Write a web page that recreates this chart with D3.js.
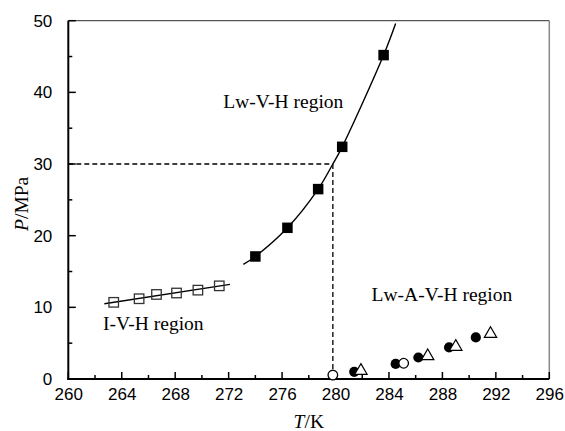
<!DOCTYPE html>
<html>
<head>
<meta charset="utf-8">
<script src="https://cdn.jsdelivr.net/npm/d3@7"></script>
<style>
  html, body { margin: 0; padding: 0; background: #fff; }
  svg { display: block; }
</style>
</head>
<body>
<svg id="chart" width="565" height="431"></svg>
<script>
// ---- data ----
const xTicks = [260, 264, 268, 272, 276, 280, 284, 288, 292, 296];
const yTicks = [0, 10, 20, 30, 40, 50];

// I-V-H (open squares)
const ivhT = [263.4, 265.3, 266.6, 268.1, 269.7, 271.3];
const ivhP = [10.7, 11.2, 11.8, 12.0, 12.4, 13.0];
const ivhFitT = [262.7, 272.1];
const ivhFitP = [10.5, 13.2];

// Lw-V-H (filled squares)
const lwvhT = [274.0, 276.4, 278.7, 280.5, 283.6];
const lwvhP = [17.1, 21.1, 26.5, 32.4, 45.2];
const lwvhFitT = [273.1, 274.0, 276.4, 278.7, 279.8, 280.5, 283.6, 284.5];
const lwvhFitP = [16.0, 17.1, 21.1, 26.5, 30.0, 32.4, 45.2, 49.6];

// Lw-A-V-H region points
const filledCircT = [281.4, 284.5, 286.2, 288.5, 290.5];
const filledCircP = [1.0, 2.1, 3.0, 4.4, 5.8];
const openCircT = [279.8, 285.1];
const openCircP = [0.55, 2.2];
const triT = [281.9, 286.9, 289.0, 291.6];
const triP = [1.15, 3.2, 4.5, 6.3];

// Guide (dashed) lines
const guideT = 279.8;
const guideP = 30;

// Region labels
const labels = [
  { text: "Lw-V-H region", t: 271.6, p: 37.8 },
  { text: "I-V-H region", t: 262.6, p: 6.8 },
  { text: "Lw-A-V-H region", t: 282.7, p: 10.9 }
];

// ---- layout ----
const svg = d3.select("#chart");
const L = 68.3, R = 549.3, T = 20.7, B = 379;
const x = d3.scaleLinear().domain([260, 296]).range([L, R]);
const y = d3.scaleLinear().domain([0, 50]).range([B, T]);

const serif = "'Liberation Serif', 'Times New Roman', serif";
const sans = "'Liberation Sans', Arial, sans-serif";

// top & right frame
svg.append("line").attr("x1", L).attr("x2", R).attr("y1", T).attr("y2", T)
  .attr("stroke", "#555").attr("stroke-width", 1.2);
svg.append("line").attr("x1", R).attr("x2", R).attr("y1", T).attr("y2", B)
  .attr("stroke", "#888").attr("stroke-width", 1.5);

// dashed guide lines
svg.append("line").attr("x1", x(260)).attr("x2", x(guideT))
  .attr("y1", y(guideP)).attr("y2", y(guideP))
  .attr("stroke", "#000").attr("stroke-width", 1.3).attr("stroke-dasharray", "5,3");
svg.append("line").attr("x1", x(guideT)).attr("x2", x(guideT))
  .attr("y1", y(guideP)).attr("y2", y(0))
  .attr("stroke", "#000").attr("stroke-width", 1.3).attr("stroke-dasharray", "5,3");

// fit lines
const line = d3.line().x(d => x(d[0])).y(d => y(d[1]));
svg.append("path")
  .datum(ivhFitT.map((t, i) => [t, ivhFitP[i]]))
  .attr("d", line).attr("fill", "none").attr("stroke", "#000").attr("stroke-width", 1.4);
svg.append("path")
  .datum(lwvhFitT.map((t, i) => [t, lwvhFitP[i]]))
  .attr("d", line.curve(d3.curveCatmullRom.alpha(0.5)))
  .attr("fill", "none").attr("stroke", "#000").attr("stroke-width", 1.4);

// axes
const xAxis = d3.axisBottom(x).tickValues(xTicks).tickSize(0).tickPadding(9).tickFormat(d3.format("d"));
const gx = svg.append("g").attr("transform", `translate(0,${B})`).call(xAxis);
gx.select(".domain").remove();
gx.selectAll("text").attr("font-family", sans).attr("font-size", "17px").attr("fill", "#000");

const yAxis = d3.axisLeft(y).tickValues(yTicks).tickSize(0).tickPadding(16).tickFormat(d3.format("d"));
const gy = svg.append("g").attr("transform", `translate(${L},0)`).call(yAxis);
gy.select(".domain").remove();
gy.selectAll("text").attr("font-family", sans).attr("font-size", "17px").attr("fill", "#000");

// inward ticks (major + minor)
const xMinor = d3.range(260, 296.01, 2);
svg.append("g").selectAll("line").data(xMinor).join("line")
  .attr("x1", d => x(d)).attr("x2", d => x(d))
  .attr("y1", B).attr("y2", d => B - (d % 4 === 0 ? 7 : 4))
  .attr("stroke", "#000").attr("stroke-width", 1.5);
const yMinor = d3.range(0, 50.01, 5);
svg.append("g").selectAll("line").data(yMinor).join("line")
  .attr("y1", d => y(d)).attr("y2", d => y(d))
  .attr("x1", L).attr("x2", d => L + (d % 10 === 0 ? 7.5 : 4))
  .attr("stroke", "#000").attr("stroke-width", 1.5);

// left & bottom axis lines
svg.append("line").attr("x1", L).attr("x2", L).attr("y1", T).attr("y2", B + 1)
  .attr("stroke", "#000").attr("stroke-width", 2);
svg.append("line").attr("x1", L - 1).attr("x2", R).attr("y1", B).attr("y2", B)
  .attr("stroke", "#000").attr("stroke-width", 2);

// markers
const sq = 10.5;
svg.append("g").selectAll("rect").data(ivhT.map((t, i) => [t, ivhP[i]])).join("rect")
  .attr("x", d => x(d[0]) - sq / 2 + 0.5).attr("y", d => y(d[1]) - sq / 2 + 0.5)
  .attr("width", sq - 1).attr("height", sq - 1)
  .attr("fill", "#fff").attr("fill-opacity", 0).attr("stroke", "#333").attr("stroke-width", 1.3);

svg.append("g").selectAll("rect").data(lwvhT.map((t, i) => [t, lwvhP[i]])).join("rect")
  .attr("x", d => x(d[0]) - sq / 2).attr("y", d => y(d[1]) - sq / 2)
  .attr("width", sq).attr("height", sq).attr("fill", "#000");

svg.append("g").selectAll("circle").data(filledCircT.map((t, i) => [t, filledCircP[i]])).join("circle")
  .attr("cx", d => x(d[0])).attr("cy", d => y(d[1])).attr("r", 5.1).attr("fill", "#000");

svg.append("g").selectAll("circle").data(openCircT.map((t, i) => [t, openCircP[i]])).join("circle")
  .attr("cx", d => x(d[0])).attr("cy", d => y(d[1])).attr("r", 4.8)
  .attr("fill", "#fff").attr("stroke", "#000").attr("stroke-width", 1.3);

const tri = d3.symbol().type(d3.symbolTriangle).size(66);
svg.append("g").selectAll("path").data(triT.map((t, i) => [t, triP[i]])).join("path")
  .attr("d", tri).attr("transform", d => `translate(${x(d[0])},${y(d[1])})`)
  .attr("fill", "#fff").attr("stroke", "#000").attr("stroke-width", 1.2);

// region labels
svg.append("g").selectAll("text").data(labels).join("text")
  .attr("x", d => x(d.t)).attr("y", d => y(d.p))
  .attr("font-family", serif).attr("font-size", "19.5px").attr("fill", "#000")
  .text(d => d.text);

// axis titles
const yt = svg.append("text")
  .attr("transform", `translate(28,${(T + B) / 2 + 4}) rotate(-90)`)
  .attr("text-anchor", "middle").attr("font-family", serif).attr("font-size", "19.5px");
yt.append("tspan").attr("font-style", "italic").text("P");
yt.append("tspan").text("/MPa");

const xt = svg.append("text")
  .attr("x", (L + R) / 2).attr("y", 428)
  .attr("text-anchor", "middle").attr("font-family", serif).attr("font-size", "19.5px");
xt.append("tspan").attr("font-style", "italic").text("T");
xt.append("tspan").text("/K");
</script>
</body>
</html>
